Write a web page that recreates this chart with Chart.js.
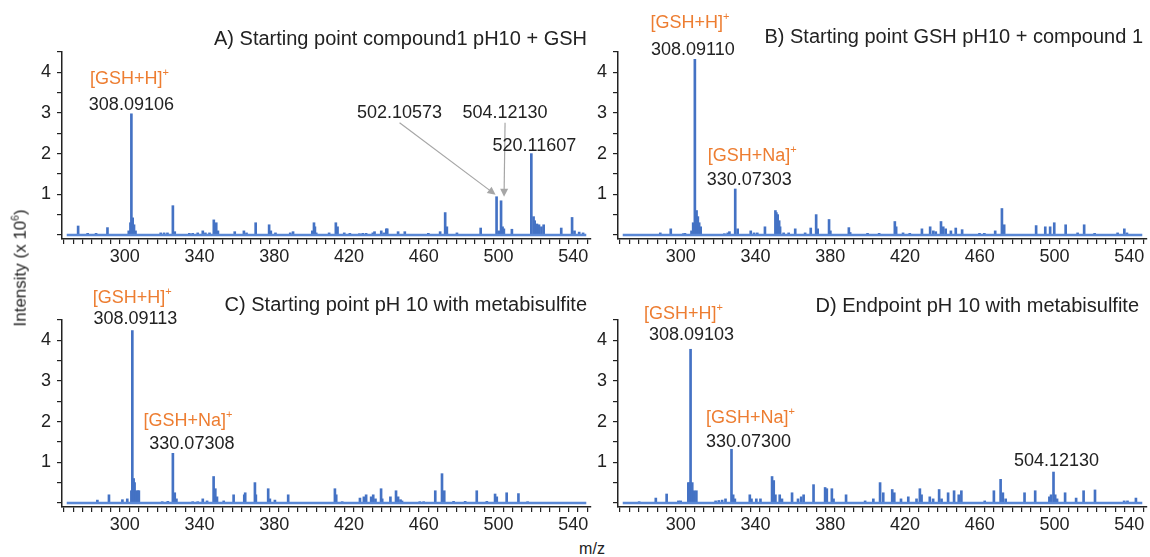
<!DOCTYPE html>
<html>
<head>
<meta charset="utf-8">
<script src="https://cdn.jsdelivr.net/npm/chart.js@4.4.1/dist/chart.umd.min.js"></script>
<style>
  body { margin: 0; background: #fff; width: 1150px; height: 557px; position: relative; overflow: hidden;
         font-family: "Liberation Sans", Arial, sans-serif; color: #222; }
  canvas { position: absolute; }
  #ytitle { position: absolute; left: 20px; top: 268px; transform: translate(-50%, -50%) rotate(-90deg);
            font-size: 17px; white-space: nowrap; }
  #xtitle { position: absolute; left: 592px; top: 549px; transform: translate(-50%, -50%); font-size: 16px; }
  #ytitle sup { font-size: 10px; }
</style>
</head>
<body>
<canvas id="pA" width="600" height="270" style="left:0;top:0"></canvas>
<canvas id="pB" width="590" height="270" style="left:560px;top:0"></canvas>
<canvas id="pC" width="600" height="270" style="left:0;top:268px"></canvas>
<canvas id="pD" width="590" height="270" style="left:560px;top:268px"></canvas>
<div id="ytitle">Intensity (x 10<sup>6</sup>)</div>
<div id="xtitle">m/z</div>
<script>
// axis settings
const xTickLabels = [300, 340, 380, 420, 460, 500, 540];
const yTickLabels = [1, 2, 3, 4];
const mzRange = [269, 547];
const intRange = [-0.1, 4.5];

const titles = [
  'A) Starting point compound1 pH10 + GSH',
  'B) Starting point GSH pH10 + compound 1',
  'C) Starting point pH 10 with metabisulfite',
  'D) Endpoint pH 10 with metabisulfite'
];

// peak lists (m/z, intensity x 10^6)
const mzA = [275.1, 280.2, 284.7, 290.8, 302.2, 303.1, 303.6, 304.3, 305.0, 305.8, 319.3, 321.1, 322.9, 325.8, 326.8,
  334.6, 336.4, 339.1, 341.8, 343.2, 345.4, 347.7, 349.0, 349.9, 358.9, 363.8, 365.2, 370.1, 377.3, 378.2, 380.7,
  388.6, 390.1, 400.4, 401.3, 401.8, 402.5, 409.4, 413.0, 413.9, 417.5, 420.5, 425.6, 427.4, 429.2, 432.8, 433.7,
  437.3, 438.7, 440.0, 440.5, 446.3, 449.9, 462.5, 468.8, 471.5, 472.4, 477.8, 490.5, 499.0, 500.2, 501.4, 502.2,
  502.9, 507.2, 517.6, 518.8, 519.4, 520.6, 521.7, 523.0, 524.2, 533.6, 539.4, 540.7, 543.2, 545.3];
const intA = [0.22, 0.04, 0.04, 0.18, 0.1, 0.3, 2.98, 0.42, 0.25, 0.1, 0.05, 0.05, 0.05, 0.72, 0.08,
  0.04, 0.04, 0.05, 0.1, 0.05, 0.05, 0.37, 0.3, 0.1, 0.08, 0.1, 0.05, 0.3, 0.25, 0.1, 0.05,
  0.05, 0.08, 0.1, 0.3, 0.2, 0.05, 0.05, 0.3, 0.2, 0.05, 0.04, 0.03, 0.04, 0.04, 0.05, 0.08,
  0.1, 0.05, 0.15, 0.15, 0.08, 0.08, 0.04, 0.08, 0.55, 0.2, 0.05, 0.17, 0.94, 0.1, 0.84, 0.2,
  0.15, 0.14, 2.0, 0.45, 0.35, 0.27, 0.25, 0.2, 0.25, 0.17, 0.43, 0.1, 0.07, 0.05];

const mzB = [289.1, 294.7, 301.4, 302.3, 305.8, 306.7, 307.6, 308.5, 309.2, 309.9, 310.7, 323.4, 325.2, 326.1, 329.2,
  330.5, 337.5, 339.3, 341.0, 345.1, 350.7, 351.2, 351.9, 352.7, 353.2, 355.1, 357.8, 361.3, 366.6, 369.6, 372.5,
  373.3, 379.4, 380.1, 390.0, 390.7, 400.0, 406.2, 414.6, 415.3, 419.0, 422.6, 429.1, 433.5, 435.2, 436.5, 439.3,
  440.5, 441.8, 444.6, 447.2, 450.6, 459.9, 462.5, 468.3, 471.9, 473.1, 490.2, 495.1, 497.7, 499.9, 506.0, 512.4,
  515.9, 521.5, 533.8, 537.4, 538.8];
const intB = [0.05, 0.15, 0.03, 0.04, 0.1, 0.3, 4.32, 0.6, 0.45, 0.3, 0.2, 0.03, 0.05, 0.08, 1.13,
  0.15, 0.1, 0.05, 0.05, 0.2, 0.6, 0.55, 0.5, 0.35, 0.2, 0.05, 0.05, 0.15, 0.05, 0.17, 0.5,
  0.15, 0.38, 0.1, 0.18, 0.06, 0.04, 0.04, 0.33, 0.2, 0.05, 0.04, 0.15, 0.2, 0.1, 0.08, 0.33,
  0.2, 0.15, 0.1, 0.17, 0.13, 0.04, 0.04, 0.1, 0.65, 0.25, 0.23, 0.2, 0.2, 0.3, 0.25, 0.05,
  0.25, 0.04, 0.05, 0.15, 0.05];

const mzC = [285.4, 291.6, 298.8, 301.4, 303.6, 304.1, 304.8, 305.3, 306.2, 307.1, 307.6, 320.1, 323.1, 325.8, 326.8,
  327.7, 336.4, 339.1, 341.8, 344.1, 347.6, 348.5, 349.4, 353.0, 358.3, 364.0, 364.5, 369.7, 370.2, 376.8, 377.7,
  380.4, 387.5, 412.5, 413.2, 416.4, 425.9, 428.0, 429.2, 431.9, 433.0, 434.2, 437.2, 437.8, 442.2, 445.2, 446.3,
  447.6, 448.4, 457.9, 460.0, 466.2, 469.8, 471.0, 476.0, 482.2, 488.4, 493.8, 498.2, 499.1, 504.4, 510.7, 515.6];
const intC = [0.07, 0.2, 0.08, 0.1, 0.3, 4.24, 0.6, 0.5, 0.3, 0.3, 0.3, 0.03, 0.04, 1.22, 0.25,
  0.1, 0.03, 0.03, 0.1, 0.05, 0.65, 0.35, 0.15, 0.05, 0.2, 0.2, 0.25, 0.5, 0.2, 0.35, 0.1,
  0.07, 0.2, 0.35, 0.2, 0.03, 0.12, 0.15, 0.2, 0.15, 0.2, 0.1, 0.35, 0.1, 0.15, 0.3, 0.15,
  0.08, 0.05, 0.03, 0.03, 0.3, 0.72, 0.3, 0.04, 0.04, 0.3, 0.04, 0.22, 0.15, 0.25, 0.23, 0.03];

const mzD = [277.8, 286.7, 292.5, 298.8, 300.0, 304.1, 304.8, 305.3, 306.2, 307.1, 308.4, 318.7, 320.4, 322.2, 324.0,
  327.2, 328.1, 329.0, 337.0, 337.9, 340.5, 342.7, 348.9, 349.8, 350.7, 353.0, 354.2, 359.6, 362.8, 364.5, 365.8,
  371.1, 377.3, 378.2, 380.9, 381.8, 388.5, 398.7, 403.1, 406.7, 408.4, 413.2, 414.3, 417.9, 421.8, 426.2, 428.0,
  428.9, 433.3, 435.1, 438.3, 439.6, 443.1, 446.3, 448.8, 450.2, 462.7, 467.6, 471.2, 472.4, 473.9, 484.0, 489.7,
  497.3, 498.2, 499.5, 500.4, 501.4, 505.7, 511.6, 515.6, 521.7, 537.3, 539.1, 543.6];
const intD = [0.03, 0.12, 0.22, 0.05, 0.05, 0.5, 0.5, 3.78, 0.5, 0.3, 0.3, 0.05, 0.06, 0.07, 0.1,
  1.32, 0.2, 0.1, 0.2, 0.1, 0.1, 0.1, 0.65, 0.55, 0.2, 0.2, 0.1, 0.25, 0.1, 0.15, 0.2,
  0.45, 0.38, 0.35, 0.35, 0.1, 0.2, 0.05, 0.1, 0.5, 0.25, 0.33, 0.25, 0.1, 0.15, 0.1, 0.35,
  0.2, 0.15, 0.1, 0.33, 0.1, 0.25, 0.3, 0.2, 0.3, 0.05, 0.3, 0.58, 0.25, 0.1, 0.25, 0.3,
  0.15, 0.2, 0.76, 0.2, 0.1, 0.25, 0.12, 0.3, 0.32, 0.05, 0.05, 0.12];

const FONT = '"Liberation Sans", Arial, sans-serif';
const ORANGE = '#ED7D31';
const BLUE = '#4472C4';

// draws titles and peak annotations on top of each spectrum
const notesPlugin = {
  id: 'notes',
  afterDraw(chart, args, opts) {
    const ctx = chart.ctx, xs = chart.scales.x, ys = chart.scales.y;
    ctx.save();
    ctx.textBaseline = 'middle';
    ctx.fillStyle = '#222';
    ctx.font = '20px ' + FONT;
    ctx.textAlign = 'right';
    ctx.fillText(opts.title, chart.chartArea.right + opts.titleDx, opts.titleY);

    opts.labels.forEach(l => {
      const i = opts.mz.indexOf(l.at);
      const px = xs.getPixelForValue(l.at), py = ys.getPixelForValue(opts.inten[i]);
      const tx = px + l.dx, ty = py + l.dy;
      if (l.ion) {
        ctx.font = '18px ' + FONT;
        const w1 = ctx.measureText(l.text).width;
        ctx.font = '11px ' + FONT;
        const w2 = ctx.measureText('+').width;
        const x0 = tx - (w1 + w2) / 2;
        ctx.fillStyle = ORANGE;
        ctx.textAlign = 'left';
        ctx.font = '18px ' + FONT;
        ctx.fillText(l.text, x0, ty);
        ctx.font = '11px ' + FONT;
        ctx.fillText('+', x0 + w1, ty - 6);
      } else {
        ctx.fillStyle = '#222';
        ctx.textAlign = 'center';
        ctx.font = '18px ' + FONT;
        ctx.fillText(l.text, tx, ty);
      }
      if (l.arrow) {
        const x1 = tx, y1 = ty + 10;
        const x2 = px + l.arrow[0], y2 = py + l.arrow[1];
        const a = Math.atan2(y2 - y1, x2 - x1);
        ctx.strokeStyle = '#A6A6A6';
        ctx.fillStyle = '#A6A6A6';
        ctx.lineWidth = 1.2;
        ctx.beginPath();
        ctx.moveTo(x1, y1);
        ctx.lineTo(x2 - 6 * Math.cos(a), y2 - 6 * Math.sin(a));
        ctx.stroke();
        ctx.beginPath();
        ctx.moveTo(x2, y2);
        ctx.lineTo(x2 - 8 * Math.cos(a) + 4 * Math.sin(a), y2 - 8 * Math.sin(a) - 4 * Math.cos(a));
        ctx.lineTo(x2 - 8 * Math.cos(a) - 4 * Math.sin(a), y2 - 8 * Math.sin(a) + 4 * Math.cos(a));
        ctx.closePath();
        ctx.fill();
      }
    });
    ctx.restore();
  }
};

function makeSpectrum(id, mz, inten, title, pad, titleDx, titleY, labels) {
  const points = mz.map((m, i) => ({ x: m, y: inten[i] }));
  new Chart(document.getElementById(id), {
    type: 'bar',
    data: {
      datasets: [
        {
          type: 'line',
          data: [{ x: mzRange[0], y: 0 }, { x: mzRange[1], y: 0 }],
          borderColor: '#5A88D6',
          borderWidth: 2.5,
          pointRadius: 0
        },
        {
          data: points,
          backgroundColor: BLUE,
          barThickness: 2,
          grouped: false
        }
      ]
    },
    options: {
      responsive: false,
      animation: false,
      devicePixelRatio: 1,
      layout: { padding: { left: pad[0], right: pad[1], top: 52, bottom: 0 } },
      plugins: {
        legend: { display: false },
        tooltip: { enabled: false },
        notes: { title, titleDx, titleY, labels, mz, inten }
      },
      scales: {
        x: {
          type: 'linear',
          min: mzRange[0],
          max: mzRange[1],
          afterBuildTicks: s => {
            const t = [];
            for (let v = 270; v <= 545; v += 5) t.push({ value: v });
            s.ticks = t;
          },
          afterFit: s => { s.height = 31; },
          ticks: {
            autoSkip: false,
            maxRotation: 0,
            padding: 2,
            color: '#222',
            font: { family: FONT, size: 18 },
            callback: v => xTickLabels.includes(v) ? String(v) : ''
          },
          grid: { drawOnChartArea: false, tickLength: 5, color: '#222', lineWidth: 1.2 },
          border: { color: '#222', width: 1.5 }
        },
        y: {
          min: intRange[0],
          max: intRange[1],
          afterBuildTicks: s => {
            const t = [];
            for (let v = 0; v <= 4.5; v += 0.5) t.push({ value: v });
            s.ticks = t;
          },
          afterFit: s => { s.width = 40; },
          ticks: {
            autoSkip: false,
            padding: 6,
            color: '#222',
            font: { family: FONT, size: 18 },
            callback: v => yTickLabels.includes(v) ? String(v) : ''
          },
          grid: { drawOnChartArea: false, tickLength: 5, color: '#222', lineWidth: 1.2 },
          border: { color: '#222', width: 1.5 }
        }
      }
    },
    plugins: [notesPlugin]
  });
}

makeSpectrum('pA', mzA, intA, titles[0], [22, 9], -4, 39, [
  { at: 303.6, text: '[GSH+H]', ion: true, dx: -2, dy: -35 },
  { at: 303.6, text: '308.09106', dx: 0, dy: -9 },
  { at: 499.0, text: '502.10573', dx: -97, dy: -84, arrow: [-1, -2] },
  { at: 501.4, text: '504.12130', dx: 4, dy: -88, arrow: [3, -4] },
  { at: 517.6, text: '520.11607', dx: 3, dy: -8 }
]);
makeSpectrum('pB', mzB, intB, titles[1], [18, 3], -4, 37, [
  { at: 307.6, text: '[GSH+H]', ion: true, dx: -5, dy: -36 },
  { at: 307.6, text: '308.09110', dx: -2, dy: -9 },
  { at: 329.2, text: '[GSH+Na]', ion: true, dx: 17, dy: -33 },
  { at: 329.2, text: '330.07303', dx: 14, dy: -9 }
]);
makeSpectrum('pC', mzC, intC, titles[2], [22, 9], -4, 37, [
  { at: 304.1, text: '[GSH+H]', ion: true, dx: 0, dy: -33 },
  { at: 304.1, text: '308.09113', dx: 3, dy: -12 },
  { at: 325.8, text: '[GSH+Na]', ion: true, dx: 15, dy: -32 },
  { at: 325.8, text: '330.07308', dx: 19, dy: -9 }
]);
makeSpectrum('pD', mzD, intD, titles[3], [18, 3], -8, 38, [
  { at: 305.3, text: '[GSH+H]', ion: true, dx: -7, dy: -35 },
  { at: 305.3, text: '308.09103', dx: 1, dy: -14 },
  { at: 327.2, text: '[GSH+Na]', ion: true, dx: 19, dy: -31 },
  { at: 327.2, text: '330.07300', dx: 17, dy: -7 },
  { at: 499.5, text: '504.12130', dx: 3, dy: -11 }
]);
</script>
</body>
</html>
